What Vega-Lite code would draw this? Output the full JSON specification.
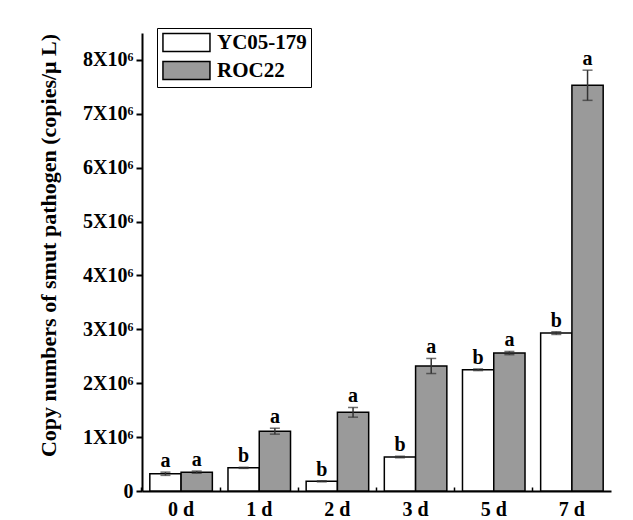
{
  "$schema": "https://vega.github.io/schema/vega-lite/v6.json",
  "autosize": "none",
  "width": 469,
  "height": 458,
  "padding": {"left": 142, "top": 33, "right": 22, "bottom": 29},
  "background": "white",
  "config": {
    "view": {"stroke": null},
    "font": "Liberation Serif"
  },
  "data": {
    "values": [
      {"day": "0 d", "variety": "YC05-179", "mean": 320000, "lo": 290000, "hi": 350000, "letter": "a"},
      {"day": "0 d", "variety": "ROC22", "mean": 350000, "lo": 330000, "hi": 370000, "letter": "a"},
      {"day": "1 d", "variety": "YC05-179", "mean": 430000, "lo": 420000, "hi": 440000, "letter": "b"},
      {"day": "1 d", "variety": "ROC22", "mean": 1110000, "lo": 1055000, "hi": 1165000, "letter": "a"},
      {"day": "2 d", "variety": "YC05-179", "mean": 180000, "lo": 170000, "hi": 190000, "letter": "b"},
      {"day": "2 d", "variety": "ROC22", "mean": 1460000, "lo": 1370000, "hi": 1550000, "letter": "a"},
      {"day": "3 d", "variety": "YC05-179", "mean": 630000, "lo": 615000, "hi": 645000, "letter": "b"},
      {"day": "3 d", "variety": "ROC22", "mean": 2320000, "lo": 2180000, "hi": 2460000, "letter": "a"},
      {"day": "5 d", "variety": "YC05-179", "mean": 2250000, "lo": 2235000, "hi": 2265000, "letter": "b"},
      {"day": "5 d", "variety": "ROC22", "mean": 2560000, "lo": 2530000, "hi": 2590000, "letter": "a"},
      {"day": "7 d", "variety": "YC05-179", "mean": 2930000, "lo": 2905000, "hi": 2955000, "letter": "b"},
      {"day": "7 d", "variety": "ROC22", "mean": 7530000, "lo": 7250000, "hi": 7810000, "letter": "a"}
    ]
  },
  "encoding": {
    "x": {
      "field": "day", "type": "nominal",
      "sort": ["0 d", "1 d", "2 d", "3 d", "5 d", "7 d"],
      "scale": {"paddingInner": 0.2, "paddingOuter": 0.1},
      "axis": {
        "title": null, "labelAngle": 0,
        "labelFont": "Liberation Serif", "labelFontWeight": "bold", "labelFontSize": 20, "labelColor": "black",
        "domainColor": "black", "domainWidth": 2,
        "tickColor": "black", "tickWidth": 1.5, "tickSize": -4, "bandPosition": -0.125,
        "labelPadding": 12, "labelBaseline": "top"
      }
    },
    "xOffset": {
      "field": "variety", "type": "nominal",
      "sort": ["YC05-179", "ROC22"],
      "scale": {"paddingInner": 0, "paddingOuter": 0}
    }
  },
  "layer": [
    {
      "mark": {"type": "bar", "stroke": "black", "strokeWidth": 1.5},
      "encoding": {
        "y": {
          "field": "mean", "type": "quantitative",
          "scale": {"domain": [0, 8500000], "nice": false},
          "axis": {
            "values": [0, 1000000, 2000000, 3000000, 4000000, 5000000, 6000000, 7000000, 8000000],
            "labelExpr": "datum.value == 0 ? '0' : format(datum.value / 1000000, 'd') + 'X10⁶'",
            "grid": false,
            "title": "Copy numbers of smut pathogen (copies/μ L)",
            "titleFont": "Liberation Serif", "titleFontWeight": "bold", "titleFontSize": 22, "titleColor": "black",
            "titleX": -94, "titleY": 212, "titleAngle": -90, "titleBaseline": "middle", "titleAlign": "center",
            "labelFont": "Liberation Serif", "labelFontWeight": "bold", "labelFontSize": 20, "labelColor": "black",
            "domainColor": "black", "domainWidth": 2,
            "tickColor": "black", "tickWidth": 2, "tickSize": 6, "labelPadding": 3
          }
        },
        "fill": {
          "field": "variety", "type": "nominal",
          "scale": {"domain": ["YC05-179", "ROC22"], "range": ["white", "#9a9a9a"]},
          "legend": {
            "orient": "none", "legendX": 15, "legendY": -5, "title": null,
            "strokeColor": "black", "fillColor": "white", "padding": 4,
            "symbolType": "M-0.9,-0.95H4.05V0.95H-0.9Z", "symbolSize": 361,
            "symbolStrokeColor": "black", "symbolStrokeWidth": 1.5, "symbolOpacity": 1,
            "labelFont": "Liberation Serif", "labelFontWeight": "bold", "labelFontSize": 21, "labelColor": "black",
            "labelOffset": 35, "rowPadding": 3, "labelLimit": 300
          }
        }
      }
    },
    {
      "mark": {"type": "rule", "color": "#333333", "strokeWidth": 1.5},
      "encoding": {
        "y": {"field": "lo", "type": "quantitative"},
        "y2": {"field": "hi"}
      }
    },
    {
      "mark": {"type": "tick", "orient": "horizontal", "color": "#333333", "size": 10, "thickness": 1.5},
      "encoding": {
        "y": {"field": "lo", "type": "quantitative"}
      }
    },
    {
      "mark": {"type": "tick", "orient": "horizontal", "color": "#333333", "size": 10, "thickness": 1.5},
      "encoding": {
        "y": {"field": "hi", "type": "quantitative"}
      }
    },
    {
      "mark": {"type": "text", "font": "Liberation Serif", "fontWeight": "bold", "fontSize": 20, "color": "black", "baseline": "alphabetic", "dy": -5},
      "encoding": {
        "y": {"field": "hi", "type": "quantitative"},
        "text": {"field": "letter"}
      }
    }
  ]
}
